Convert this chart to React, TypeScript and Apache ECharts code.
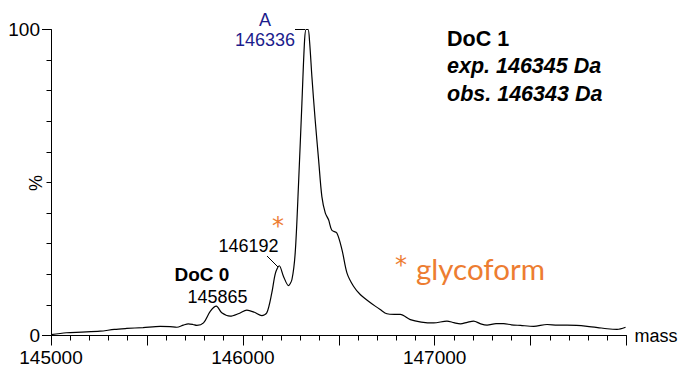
import { useEffect, useRef } from "react";
import * as echarts from "echarts";

const masses = [
  145000, 145080, 145160, 145256, 145330, 145395, 145480, 145569, 145620, 145656,
  145690, 145716, 145740, 145760, 145795, 145830, 145862, 145890, 145934, 145980,
  146021, 146060, 146099, 146125, 146151, 146170, 146190, 146212, 146238, 146256,
  146273, 146290, 146308, 146322, 146330, 146340, 146348, 146360, 146377, 146395,
  146412, 146430, 146447, 146464, 146490, 146517, 146543, 146577, 146612, 146655,
  146690, 146716, 146751, 146790, 146821, 146873, 146930, 146995, 147064, 147100,
  147134, 147170, 147203, 147240, 147273, 147320, 147360, 147400, 147447, 147516,
  147586, 147640, 147690, 147740, 147795, 147850, 147899, 147951, 147995,
];
const intensities = [
  0.3, 0.9, 1.1, 1.4, 2.0, 2.3, 2.6, 3.0, 2.9, 2.7,
  3.4, 3.8, 3.6, 3.3, 4.1, 7.9, 9.6, 7.4, 6.3, 7.2,
  8.3, 7.6, 6.5, 7.4, 13.9, 20.4, 22.8, 19.3, 16.3, 18.3,
  27, 49, 76, 96.6, 100, 100, 96, 84.6, 70.5, 57.4,
  45.4, 40, 37.8, 34.4, 33.5, 28, 20.4, 16.1, 13.4, 11.2,
  9.6, 8.5, 7.1, 6.9, 6.9, 5.2, 4.4, 4.1, 4.7, 4.2,
  3.8, 4.3, 4.7, 3.8, 3.4, 3.9, 3.9, 3.5, 3.3, 3.0,
  3.6, 3.4, 3.4, 3.3, 3.0, 2.6, 2.2, 2.0, 2.7,
];
const xLabelledTicks = [145000, 146000, 147000];
const yLabelledTicks = [0, 100];

const ARIAL = '"Liberation Sans", Arial, sans-serif';
const CALIBRI = 'Lato, "Open Sans", sans-serif';
const STAR = '"DejaVu Sans", sans-serif';
const BLUE = "#1c1c8c";
const ORANGE = "#ED7D31";

export default function App() {
  const ref = useRef<HTMLDivElement>(null);
  useEffect(() => {
    if (!ref.current) return;
    const chart = echarts.init(ref.current, null, { renderer: "svg" });
    const data = masses.map((m, i) => [m, intensities[i]]);
    const txt = (
      text: string,
      x: number,
      y: number,
      opts: Record<string, any> = {},
      extra: Record<string, any> = {}
    ) => ({
      type: "text",
      x,
      y,
      ...extra,
      style: {
        text,
        fill: "#000",
        fontSize: 18,
        fontFamily: ARIAL,
        align: "center",
        verticalAlign: "middle",
        ...opts,
      },
    });
    chart.setOption({
      animation: false,
      grid: {
        left: 51,
        right: 57.5,
        top: 29.5,
        bottom: 32.5,
        containLabel: false,
        outerBoundsMode: "none",
      },
      xAxis: {
        type: "value",
        min: 145000,
        max: 148000,
        interval: 500,
        splitLine: { show: false },
        axisLine: { lineStyle: { color: "#000", width: 1 } },
        axisTick: { length: 10, lineStyle: { color: "#000" } },
        minorTick: { show: true, splitNumber: 5, length: 5, lineStyle: { color: "#000" } },
        axisLabel: {
          color: "#000",
          fontSize: 19,
          fontFamily: ARIAL,
          margin: 12,
          formatter: (v: number) => (xLabelledTicks.includes(v) ? String(v) : ""),
        },
        name: "mass",
        nameLocation: "end",
        nameGap: 8,
        nameTextStyle: { color: "#000", fontSize: 18, fontFamily: ARIAL },
      },
      yAxis: {
        type: "value",
        min: 0,
        max: 100,
        interval: 100,
        splitLine: { show: false },
        axisLine: { show: true, lineStyle: { color: "#000", width: 1 } },
        axisTick: { show: true, length: 9, lineStyle: { color: "#000" } },
        minorTick: { show: true, splitNumber: 10, length: 4.5, lineStyle: { color: "#000" } },
        axisLabel: {
          color: "#000",
          fontSize: 19,
          fontFamily: ARIAL,
          margin: 11,
          formatter: (v: number) => (yLabelledTicks.includes(v) ? String(v) : ""),
        },
      },
      series: [
        {
          type: "line",
          data,
          showSymbol: false,
          smooth: 0.3,
          lineStyle: { color: "#000", width: 1.2 },
          silent: true,
        },
      ],
      graphic: [
        txt("%", 36, 183, {}, { rotation: Math.PI / 2 }),
        txt("A", 265, 20, { fill: BLUE }),
        txt("146336", 265, 40, { fill: BLUE }),
        { type: "line", shape: { x1: 295, y1: 29.5, x2: 305, y2: 29.5 }, style: { stroke: "#000", lineWidth: 1 } },
        txt("146192", 248.5, 246),
        { type: "line", shape: { x1: 267, y1: 256, x2: 278, y2: 267 }, style: { stroke: "#000", lineWidth: 1 } },
        txt("*", 278, 226, { fill: ORANGE, fontSize: 24, fontFamily: STAR }),
        txt("DoC 0", 202, 274, { fontWeight: "bold", fontSize: 19 }),
        txt("145865", 217.5, 297),
        txt("*", 401, 265, { fill: ORANGE, fontSize: 24, fontFamily: STAR }),
        txt("glycoform", 416, 268, { fill: ORANGE, fontSize: 29.5, fontFamily: CALIBRI, align: "left" }),
        txt("DoC 1", 447, 38.5, { fontWeight: "bold", fontSize: 21.5, align: "left" }),
        txt("exp. 146345 Da", 447, 65.5, { fontWeight: "bold", fontStyle: "italic", fontSize: 21.5, align: "left" }),
        txt("obs. 146343 Da", 447, 94, { fontWeight: "bold", fontStyle: "italic", fontSize: 21.5, align: "left" }),
      ],
    });
    return () => chart.dispose();
  }, []);
  return (
    <div
      ref={ref}
      style={{ position: "fixed", left: 0, top: 0, width: 684, height: 368, background: "#fff" }}
    />
  );
}
